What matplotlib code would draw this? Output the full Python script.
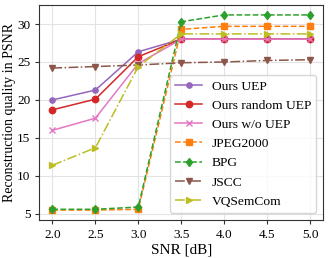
import matplotlib.pyplot as plt
import numpy as np

plt.rcParams['font.family'] = ['Liberation Serif', 'DejaVu Serif']
plt.rcParams['mathtext.fontset'] = 'stix'

# SNR points
snr = np.array([2.0, 2.5, 3.0, 3.5, 4.0, 4.5, 5.0])

# PSNR values per method
ours_uep = [20.0, 21.3, 26.35, 28.0, 28.0, 28.0, 28.0]
ours_random_uep = [18.7, 20.1, 25.7, 28.0, 28.0, 28.0, 28.0]
ours_wo_uep = [16.0, 17.6, 24.8, 28.0, 28.0, 28.0, 28.0]
jpeg2000 = [5.5, 5.5, 5.6, 29.3, 29.7, 29.7, 29.7]
bpg = [5.6, 5.6, 5.9, 30.3, 31.2, 31.2, 31.2]
jscc = [24.2, 24.4, 24.6, 24.9, 25.0, 25.2, 25.3]
vqsemcom = [11.4, 13.7, 24.4, 28.7, 28.7, 28.7, 28.7]

fig, ax = plt.subplots(figsize=(3.29, 2.58), dpi=100)

ax.plot(snr, ours_uep, '-o', color='#9467bd', ms=3.8, lw=1.1, label='Ours UEP')
ax.plot(snr, ours_random_uep, '-o', color='#d62728', ms=4.6, lw=1.1, label='Ours random UEP')
ax.plot(snr, ours_wo_uep, '-x', color='#e377c2', ms=5, lw=1.1, label='Ours w/o UEP')
ax.plot(snr, jpeg2000, '--s', color='#ff7f0e', ms=4.3, lw=1.1, label='JPEG2000')
ax.plot(snr, bpg, '--d', color='#2ca02c', ms=4.5, lw=1.1, label='BPG')
ax.plot(snr, jscc, '-.v', color='#8c564b', ms=4.8, lw=1.1, label='JSCC')
ax.plot(snr, vqsemcom, '-.>', color='#bcbd22', ms=4.8, lw=1.1, label='VQSemCom')

ax.set_xticks([2.0, 2.5, 3.0, 3.5, 4.0, 4.5, 5.0])
ax.set_yticks([5, 10, 15, 20, 25, 30])
ax.grid(True, color='#e3e3e3', lw=0.8)
ax.set_axisbelow(True)
for s in ax.spines.values():
    s.set_color('#333333')
ax.tick_params(labelsize=9.5, length=3, color='#333333')

ax.set_xlabel('SNR [dB]', fontsize=11, labelpad=2)
ax.set_ylabel('Reconstruction quality in PSNR', fontsize=10, labelpad=1)
ax.legend(loc='lower right', fontsize=9.7, framealpha=0.8, handlelength=2.0,
          handletextpad=0.7, borderpad=0.4, labelspacing=0.5)

fig.subplots_adjust(left=0.12, right=0.982, top=0.98, bottom=0.148)
fig.savefig('out.png', dpi=100)
